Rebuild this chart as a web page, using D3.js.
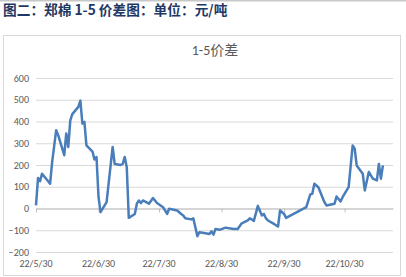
<!DOCTYPE html>
<html>
<head>
<meta charset="utf-8">
<script src="https://cdn.jsdelivr.net/npm/d3@7"></script>
<style>
  html, body { margin: 0; padding: 0; background: #fff; }
  svg { display: block; }
</style>
</head>
<body>
<svg id="chart" width="406" height="277"></svg>
<script>

// reading dates (yyyy-mm-dd) and the 1-5 spread in yuan/ton
var dates = [
    '2022-05-30', '2022-05-31', '2022-06-01', '2022-06-02', '2022-06-06', '2022-06-07', '2022-06-09', '2022-06-10',
    '2022-06-13', '2022-06-14', '2022-06-15', '2022-06-16', '2022-06-17', '2022-06-20', '2022-06-21', '2022-06-22',
    '2022-06-23', '2022-06-24', '2022-06-27', '2022-06-28', '2022-06-29', '2022-06-30', '2022-07-01', '2022-07-04',
    '2022-07-07', '2022-07-08', '2022-07-11', '2022-07-12', '2022-07-13', '2022-07-14', '2022-07-15', '2022-07-18',
    '2022-07-19', '2022-07-20', '2022-07-21', '2022-07-22', '2022-07-25', '2022-07-27', '2022-07-29', '2022-08-01',
    '2022-08-03', '2022-08-04', '2022-08-08', '2022-08-10', '2022-08-11', '2022-08-12', '2022-08-15', '2022-08-16',
    '2022-08-18', '2022-08-19', '2022-08-22', '2022-08-24', '2022-08-25', '2022-08-26', '2022-08-27', '2022-08-29',
    '2022-09-01', '2022-09-02', '2022-09-05', '2022-09-07', '2022-09-09', '2022-09-12', '2022-09-13', '2022-09-15',
    '2022-09-17', '2022-09-19', '2022-09-20', '2022-09-21', '2022-09-22', '2022-09-25', '2022-09-27', '2022-09-28',
    '2022-09-30', '2022-10-01', '2022-10-11', '2022-10-13', '2022-10-14', '2022-10-15', '2022-10-17', '2022-10-18',
    '2022-10-20', '2022-10-21', '2022-10-25', '2022-10-26', '2022-10-28', '2022-10-29', '2022-10-31', '2022-11-01',
    '2022-11-03', '2022-11-04', '2022-11-05', '2022-11-08', '2022-11-09', '2022-11-11', '2022-11-13', '2022-11-15',
    '2022-11-16', '2022-11-17', '2022-11-18'
];

var spread = [
    14, 140, 126, 160, 114, 213, 360, 337,
    245, 345, 283, 405, 434, 467, 496, 390,
    398, 290, 262, 225, 237, 52, -17, 29,
    283, 205, 200, 205, 237, 190, -43, -25,
    22, 37, 25, 37, 22, 48, 25, 6,
    -25, -1, -9, -25, -32, -45, -50, -45,
    -127, -109, -114, -117, -105, -120, -94, -98,
    -88, -90, -94, -94, -68, -55, -45, -57,
    12, -32, -25, -45, -55, -71, -83, -9,
    -25, -43, 6, 65, 68, 114, 98, 75,
    29, 14, 22, 55, 32, 52, 83, 98,
    290, 275, 198, 160, 83, 168, 137, 129,
    205, 137, 198
];

var xTicks = ['2022-05-30', '2022-06-30', '2022-07-30', '2022-08-30', '2022-09-30', '2022-10-30'];
var yTicks = [-200, -100, 0, 100, 200, 300, 400, 500, 600];

var header = '图二：郑棉 1-5 价差图：单位：元/吨';
var title = '1-5价差';

var drawChart = function () {

    var svg = d3.select('#chart'),
        parse = d3.timeParse('%Y-%m-%d'),
        labelFont = 'Calibri, Carlito, "Liberation Sans", "Noto Sans CJK SC", sans-serif',
        data = dates.map(function (d, i) {

            return { date: parse(d), value: spread[i] };

        });

    var x = d3.scaleTime()
        .domain([parse('2022-05-30'), parse('2022-11-23')])
        .range([36, 393]);

    var y = d3.scaleLinear()
        .domain([-200, 600])
        .range([252, 78]);

    // page header and rule
    svg.append('line')
        .attr('x1', 0).attr('x2', 406)
        .attr('y1', 0.5).attr('y2', 0.5)
        .attr('stroke', '#c8c8c8')
        .attr('stroke-width', 2);

    svg.append('text')
        .attr('x', 3)
        .attr('y', 15)
        .attr('font-family', '"Noto Sans CJK SC", sans-serif')
        .attr('font-size', 13.7)
        .attr('font-weight', 'bold')
        .attr('fill', '#1f3864')
        .text(header);

    // chart frame
    svg.append('rect')
        .attr('x', 3.5)
        .attr('y', 35.5)
        .attr('width', 397)
        .attr('height', 240)
        .attr('fill', '#fff')
        .attr('stroke', '#d9d9d9');

    svg.append('text')
        .attr('x', 215)
        .attr('y', 55)
        .attr('text-anchor', 'middle')
        .attr('font-family', labelFont)
        .attr('font-size', 14)
        .attr('fill', '#595959')
        .text(title);

    // gridlines and y labels
    var yAxis = svg.append('g')
        .attr('transform', 'translate(36,0)')
        .call(d3.axisLeft(y).tickValues(yTicks).tickSize(-(393 - 36)).tickPadding(7));

    yAxis.select('.domain').remove();
    yAxis.selectAll('.tick line')
        .attr('stroke', '#d9d9d9')
        .attr('stroke-width', 1);
    yAxis.selectAll('.tick text')
        .attr('font-family', labelFont)
        .attr('font-size', 10)
        .attr('fill', '#595959');

    // category axis crossing at zero
    var xAxis = svg.append('g')
        .attr('transform', 'translate(0,' + y(0) + ')')
        .call(d3.axisBottom(x)
            .tickValues(xTicks.map(parse))
            .tickSize(4)
            .tickSizeOuter(0)
            .tickFormat(function () { return ''; }));

    xAxis.select('.domain').attr('stroke', '#bfbfbf');
    xAxis.selectAll('.tick line').attr('stroke', '#bfbfbf');

    // x labels along the bottom
    svg.append('g')
        .selectAll('text')
        .data(xTicks.map(parse))
        .enter().append('text')
        .attr('x', function (d) { return x(d); })
        .attr('y', 267)
        .attr('text-anchor', 'middle')
        .attr('font-family', labelFont)
        .attr('font-size', 10)
        .attr('fill', '#595959')
        .text(function (d) {

            return d3.timeFormat('%y/')(d) + (d.getMonth() + 1) + '/' + d.getDate();

        });

    var line = d3.line()
        .x(function (d) { return x(d.date); })
        .y(function (d) { return y(d.value); });

    svg.append('path')
        .datum(data)
        .attr('d', line)
        .attr('fill', 'none')
        .attr('stroke', '#4a7ebb')
        .attr('stroke-width', 2.5)
        .attr('stroke-linejoin', 'round');

};

drawChart();

</script>
</body>
</html>
